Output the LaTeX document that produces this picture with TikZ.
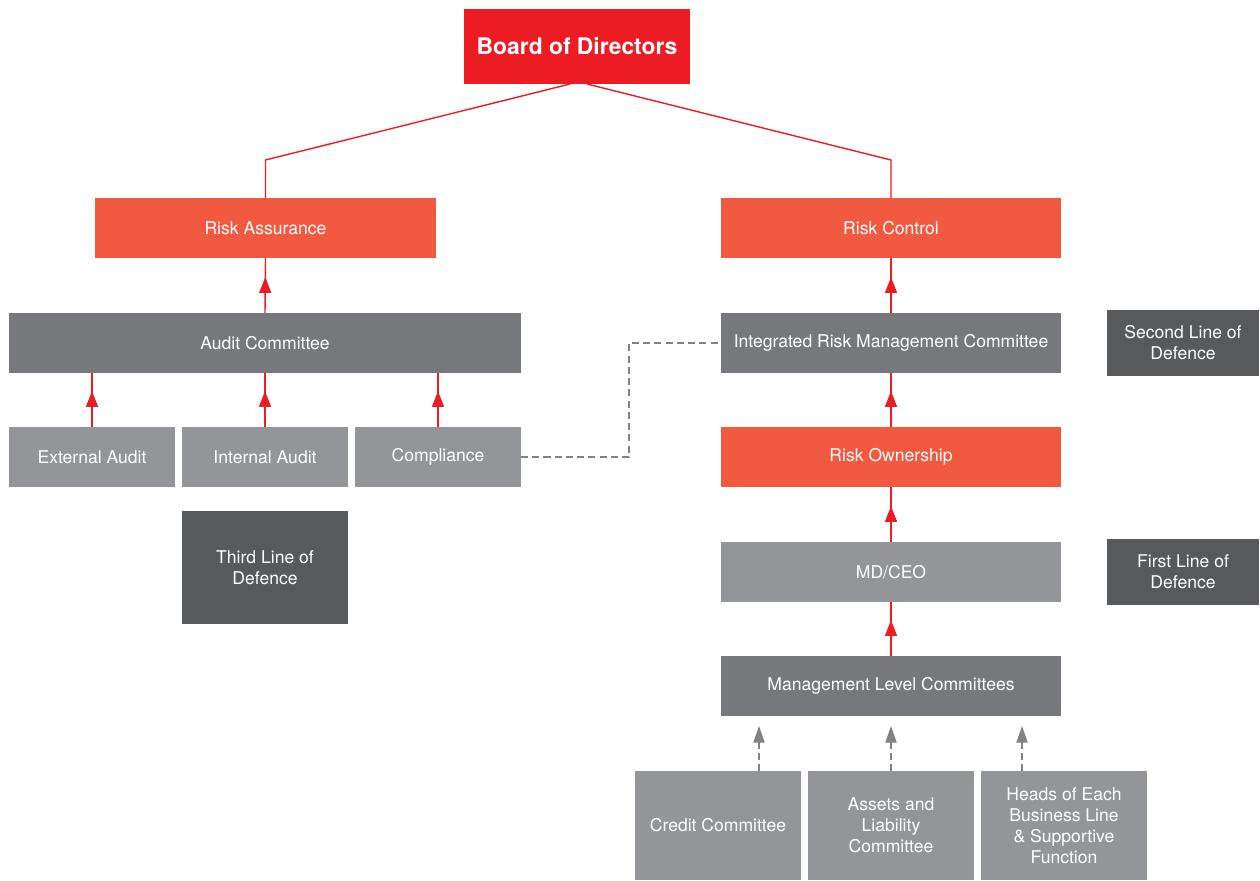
\documentclass[tikz,border=0pt]{standalone}
\usepackage{fontspec}
\setmainfont{TeX Gyre Heros}
\usetikzlibrary{arrows.meta,decorations.markings}
\definecolor{boardred}{HTML}{ED1C24}
\definecolor{riskorange}{HTML}{F15A40}
\definecolor{midgray}{HTML}{77787B}
\definecolor{lightgray}{HTML}{939598}
\definecolor{darkgray}{HTML}{58595B}
\definecolor{dashgray}{HTML}{808285}
\tikzset{
    boxbase/.style={inner sep=0pt, outer sep=0pt, text=white, align=center,
        font=\fontsize{10}{12}\selectfont},
    boardbox/.style={boxbase, fill=boardred, minimum width=4.52cm, minimum height=1.5cm,
        font=\fontsize{13}{15}\selectfont\bfseries},
    riskbox/.style={boxbase, fill=riskorange, minimum width=6.8cm, minimum height=1.2cm},
    commbox/.style={boxbase, fill=midgray, minimum width=6.8cm, minimum height=1.2cm},
    lightbox/.style={boxbase, fill=lightgray, minimum width=3.32cm, minimum height=1.2cm},
    linebox/.style={boxbase, fill=darkgray, minimum width=3.04cm, minimum height=1.32cm},
    redline/.style={draw=boardred, line width=0.8pt},
    uparrow/.style={redline,
        postaction={decorate, decoration={markings,
            mark=at position 0.72cm with {\arrow[boardred]{Triangle[width=6.8pt,length=9pt]}}}}},
    dashlink/.style={draw=dashgray, line width=0.7pt, dash pattern=on 4pt off 2.4pt},
    dasharrow/.style={dashlink, shorten >=0.2cm, -{Triangle[width=6.4pt,length=9.5pt]}, dashgray},
}
\begin{document}
\begin{tikzpicture}[x=0.02cm, y=-0.02cm]
    \useasboundingbox (0,0) rectangle (1260,880);
    % top
    \node[boardbox] (board) at (577,46.5) {Board of Directors};
    \node[riskbox, minimum width=6.82cm] (assur) at (265.5,228) {Risk Assurance};
    \node[riskbox] (ctrl) at (891,228) {Risk Control};
    % left side
    \node[commbox, minimum width=10.24cm] (audit) at (265,343) {Audit Committee};
    \node[lightbox] (ext) at (92,457) {External Audit};
    \node[lightbox] (int) at (265,457) {Internal Audit};
    \node[lightbox] (comp) at (438,457) {Compliance};
    \node[linebox, minimum width=3.32cm, minimum height=2.26cm] (third) at (265,567.5) {Third Line of\\Defence};
    % right side
    \node[commbox] (irmc) at (891,343) {Integrated Risk Management Committee};
    \node[linebox] (second) at (1183,343) {Second Line of\\Defence};
    \node[riskbox] (own) at (891,457) {Risk Ownership};
    \node[lightbox, minimum width=6.8cm] (ceo) at (891,572) {MD/CEO};
    \node[linebox] (first) at (1183,572) {First Line of\\Defence};
    \node[commbox] (mlc) at (891,686) {Management Level Committees};
    \node[lightbox, minimum height=2.18cm] (credit) at (718,825.5) {Credit Committee};
    \node[lightbox, minimum height=2.18cm] (alco) at (891,825.5) {Assets and\\Liability\\Committee};
    \node[lightbox, minimum height=2.18cm] (heads) at (1064,825.5) {Heads of Each\\Business Line\\\& Supportive\\Function};

    % board links
    \draw[redline] ([xshift=-0.14cm]board.south) -- (assur.north |- 0,160) -- (assur.north);
    \draw[redline] ([xshift=0.2cm]board.south) -- (ctrl.north |- 0,160) -- (ctrl.north);

    % reporting lines
    \draw[uparrow] (audit.north) -- (assur.south);
    \draw[uparrow] (ext.north) -- (ext.north |- audit.south);
    \draw[uparrow] (int.north) -- (int.north |- audit.south);
    \draw[uparrow] (comp.north) -- (comp.north |- audit.south);
    \draw[uparrow] (irmc.north) -- (ctrl.south);
    \draw[uparrow] (own.north) -- (irmc.south);
    \draw[uparrow] (ceo.north) -- (own.south);
    \draw[uparrow] (mlc.north) -- (ceo.south);

    % dashed links
    \draw[dashlink] (comp.east) -- ++(108,0) |- (irmc.west);
    \draw[dasharrow] ([xshift=0.82cm]credit.north) -- ([xshift=0.82cm]credit.north |- mlc.south);
    \draw[dasharrow] (alco.north) -- (mlc.south);
    \draw[dasharrow] ([xshift=-0.84cm]heads.north) -- ([xshift=-0.84cm]heads.north |- mlc.south);
\end{tikzpicture}
\end{document}
